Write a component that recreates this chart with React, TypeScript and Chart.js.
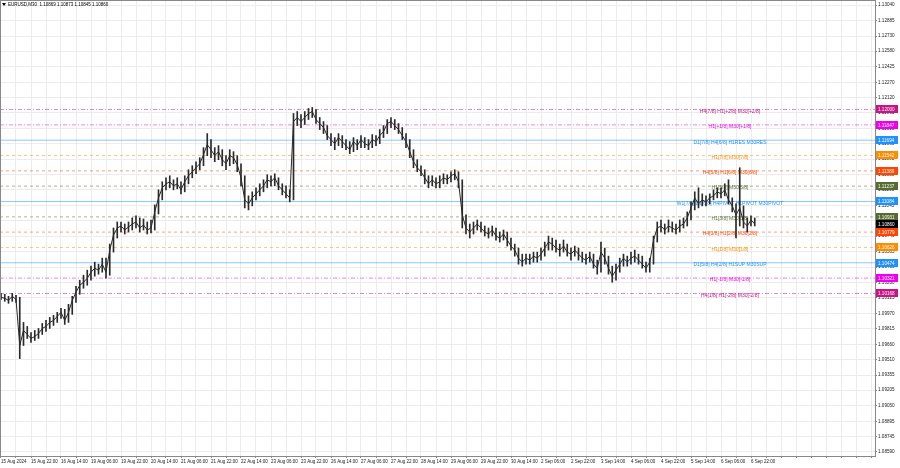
import React, { useEffect, useRef } from "react";
import { Chart, registerables } from "chart.js";
Chart.register(...registerables);

// ---- data ----
const TITLE = "EURUSD,M30  1.10869 1.10873 1.10845 1.10860";
const TIME_LABELS = [
  "15 Aug 2024", "15 Aug 22:00", "16 Aug 14:00", "19 Aug 06:00", "19 Aug 22:00", "20 Aug 14:00",
  "21 Aug 06:00", "21 Aug 22:00", "22 Aug 14:00", "23 Aug 06:00", "23 Aug 22:00", "26 Aug 14:00",
  "27 Aug 06:00", "27 Aug 22:00", "28 Aug 14:00", "29 Aug 06:00", "29 Aug 22:00", "30 Aug 14:00",
  "2 Sep 06:00", "2 Sep 22:00", "3 Sep 14:00", "4 Sep 06:00", "4 Sep 22:00", "5 Sep 14:00",
  "6 Sep 06:00", "6 Sep 22:00",
];
const FIRST_OPEN = 1.1014;
const CLOSES = [
  1.1013, 1.1012, 1.1010, 1.1014, 1.1011, 1.0965, 1.0980, 1.0976, 1.0972, 1.0974,
  1.0977, 1.0982, 1.0984, 1.0988, 1.0990, 1.0994, 1.0998, 1.0990, 1.0998, 1.1010,
  1.1018, 1.1025, 1.1028, 1.1032, 1.1038, 1.1042, 1.1040, 1.1046, 1.1038, 1.1060,
  1.1075, 1.1082, 1.1084, 1.1080, 1.1083, 1.1086, 1.1088, 1.1082, 1.1085, 1.1080,
  1.1082, 1.1098, 1.1112, 1.1122, 1.1126, 1.1128, 1.1124, 1.1126, 1.1120, 1.1128,
  1.1134, 1.1138, 1.1142, 1.1146, 1.1155, 1.1165, 1.1160, 1.1154, 1.1158, 1.1150,
  1.1146, 1.1154, 1.1152, 1.1145, 1.1132, 1.1110, 1.1106, 1.1112, 1.1116, 1.1120,
  1.1124, 1.1130, 1.1128, 1.1132, 1.1124, 1.1120, 1.1116, 1.1112, 1.1188, 1.1192,
  1.1188, 1.1192, 1.1196, 1.1198, 1.1190, 1.1186, 1.1182, 1.1174, 1.1170, 1.1166,
  1.1172, 1.1168, 1.1164, 1.1160, 1.1168, 1.1164, 1.1170, 1.1166, 1.1164, 1.1170,
  1.1168, 1.1174, 1.1178, 1.1186, 1.1188, 1.1184, 1.1180, 1.1174, 1.1168, 1.1158,
  1.1148, 1.1142, 1.1138, 1.1132, 1.1126, 1.1130, 1.1126, 1.1128, 1.1132, 1.1130,
  1.1134, 1.1136, 1.1128, 1.1095, 1.1082, 1.1078, 1.1082, 1.1086, 1.1082, 1.1078,
  1.1076, 1.1080, 1.1074, 1.1072, 1.1076, 1.1070, 1.1064, 1.1060, 1.1052, 1.1048,
  1.1052, 1.1050, 1.1054, 1.1052, 1.1056, 1.1062, 1.1068, 1.1066, 1.1062, 1.1060,
  1.1064, 1.1058, 1.1056, 1.1060, 1.1056, 1.1052, 1.1050, 1.1054, 1.1046, 1.1042,
  1.1058, 1.1052, 1.1042, 1.1034, 1.1040, 1.1046, 1.1052, 1.1048, 1.1052, 1.1054,
  1.1050, 1.1046, 1.1042, 1.1048, 1.1070, 1.1082, 1.1084, 1.1080, 1.1084, 1.1082,
  1.1080, 1.1084, 1.1086, 1.1092, 1.1102, 1.1112, 1.1106, 1.1110, 1.1108, 1.1112,
  1.1114, 1.1118, 1.1116, 1.1120, 1.1110, 1.1104, 1.1095, 1.1102, 1.1088, 1.1084,
  1.1090, 1.1086,
];
const HIGHS = [
  1.1017, 1.1016, 1.1014, 1.1017, 1.1015, 1.1013, 1.0988, 1.0984, 1.0978, 1.0980,
  1.0982, 1.0987, 1.0990, 1.0993, 1.0995, 1.0998, 1.1002, 1.1001, 1.1006, 1.1014,
  1.1024, 1.1030, 1.1035, 1.1040, 1.1044, 1.1048, 1.1046, 1.1052, 1.1052, 1.1066,
  1.1082, 1.1088, 1.1088, 1.1086, 1.1088, 1.1092, 1.1094, 1.1092, 1.1091, 1.1088,
  1.1090, 1.1105, 1.1120, 1.1128, 1.1132, 1.1134, 1.1130, 1.1132, 1.1128, 1.1134,
  1.1140, 1.1144, 1.1148, 1.1152, 1.1162, 1.1176, 1.1170, 1.1162, 1.1164, 1.1160,
  1.1154, 1.1160, 1.1158, 1.1154, 1.1146, 1.1134, 1.1114, 1.1118, 1.1122, 1.1126,
  1.1130, 1.1135, 1.1134, 1.1136, 1.1132, 1.1126, 1.1124, 1.1120, 1.1196, 1.1198,
  1.1195, 1.1198, 1.1201, 1.1202, 1.1200, 1.1192, 1.1188, 1.1184, 1.1176, 1.1172,
  1.1176, 1.1174, 1.1170, 1.1168, 1.1172, 1.1170, 1.1174, 1.1172, 1.1170, 1.1175,
  1.1174, 1.1180, 1.1184, 1.1190, 1.1192, 1.1190, 1.1186, 1.1182, 1.1176, 1.1170,
  1.1160, 1.1150, 1.1144, 1.1140, 1.1134, 1.1134, 1.1132, 1.1134, 1.1136, 1.1135,
  1.1138, 1.1140, 1.1138, 1.1130, 1.1092, 1.1086, 1.1088, 1.1090, 1.1088, 1.1084,
  1.1082, 1.1084, 1.1082, 1.1078, 1.1080, 1.1078, 1.1072, 1.1066, 1.1062, 1.1056,
  1.1056, 1.1056, 1.1058, 1.1058, 1.1062, 1.1068, 1.1074, 1.1072, 1.1070, 1.1066,
  1.1070, 1.1066, 1.1062, 1.1064, 1.1062, 1.1058, 1.1056, 1.1058, 1.1056, 1.1050,
  1.1068, 1.1062, 1.1054, 1.1044, 1.1046, 1.1052, 1.1056, 1.1054, 1.1058, 1.1060,
  1.1056, 1.1054, 1.1048, 1.1052, 1.1074, 1.1088, 1.1090, 1.1086, 1.1090, 1.1088,
  1.1086, 1.1090, 1.1092, 1.1098, 1.1108, 1.1118, 1.1122, 1.1116, 1.1114, 1.1116,
  1.1120, 1.1122, 1.1122, 1.1126, 1.1130, 1.1112, 1.1106, 1.1142, 1.1104, 1.1092,
  1.1094, 1.1092,
];
const LOWS = [
  1.1011, 1.1009, 1.1007, 1.1009, 1.1008, 1.0952, 1.0965, 1.0972, 1.0968, 1.0970,
  1.0972, 1.0976, 1.0979, 1.0982, 1.0985, 1.0988, 1.0992, 1.0986, 1.0988, 1.0996,
  1.1008, 1.1016, 1.1022, 1.1025, 1.1030, 1.1034, 1.1036, 1.1038, 1.1032, 1.1035,
  1.1058, 1.1072, 1.1078, 1.1076, 1.1078, 1.1080, 1.1082, 1.1078, 1.1080, 1.1076,
  1.1077, 1.1080, 1.1096, 1.1110, 1.1120, 1.1122, 1.1120, 1.1121, 1.1116, 1.1118,
  1.1126, 1.1132, 1.1136, 1.1140, 1.1144, 1.1154, 1.1152, 1.1148, 1.1150, 1.1144,
  1.1140, 1.1144, 1.1146, 1.1138, 1.1124, 1.1102, 1.1100, 1.1104, 1.1110, 1.1114,
  1.1118, 1.1122, 1.1124, 1.1124, 1.1120, 1.1115, 1.1112, 1.1108, 1.1110, 1.1184,
  1.1182, 1.1185, 1.1190, 1.1192, 1.1186, 1.1180, 1.1176, 1.1170, 1.1164, 1.1160,
  1.1164, 1.1162, 1.1160, 1.1156, 1.1158, 1.1160, 1.1162, 1.1162, 1.1160, 1.1162,
  1.1164, 1.1166, 1.1172, 1.1176, 1.1182, 1.1180, 1.1176, 1.1170, 1.1162, 1.1152,
  1.1142, 1.1138, 1.1134, 1.1126, 1.1122, 1.1124, 1.1122, 1.1122, 1.1126, 1.1126,
  1.1128, 1.1130, 1.1122, 1.1082, 1.1076, 1.1072, 1.1076, 1.1080, 1.1078, 1.1074,
  1.1072, 1.1074, 1.1070, 1.1068, 1.1070, 1.1064, 1.1060, 1.1054, 1.1046, 1.1044,
  1.1046, 1.1046, 1.1048, 1.1048, 1.1050, 1.1054, 1.1060, 1.1060, 1.1058, 1.1054,
  1.1058, 1.1054, 1.1050, 1.1054, 1.1050, 1.1048, 1.1046, 1.1048, 1.1042, 1.1036,
  1.1038, 1.1046, 1.1036, 1.1028, 1.1030, 1.1038, 1.1044, 1.1044, 1.1046, 1.1048,
  1.1046, 1.1042, 1.1038, 1.1038, 1.1046, 1.1068, 1.1078, 1.1076, 1.1078, 1.1078,
  1.1076, 1.1078, 1.1082, 1.1084, 1.1090, 1.1100, 1.1102, 1.1104, 1.1104, 1.1106,
  1.1110, 1.1112, 1.1112, 1.1114, 1.1106, 1.1098, 1.1072, 1.1084, 1.1082, 1.1078,
  1.1084, 1.1084,
];
const Y_TICKS = [
  1.1304, 1.12885, 1.1273, 1.1258, 1.12425, 1.1227, 1.1212, 1.11965, 1.1181, 1.1166,
  1.11505, 1.1135, 1.112, 1.11045, 1.1089, 1.1074, 1.10585, 1.1043, 1.1028, 1.10125,
  1.0997, 1.09815, 1.0966, 1.0951, 1.09355, 1.09205, 1.0905, 1.08895, 1.08745, 1.0859,
];
const LEVELS = [
  1.12, 1.11847, 1.11694, 1.11542, 1.11389, 1.11237, 1.11084,
  1.10931, 1.10779, 1.10626, 1.10474, 1.10321, 1.10168,
];
const LEVEL_NAMES = [
  "H4[7/8] H1[+2/8] M30[+2/8]",
  "H1[+1/8] M30[+1/8]",
  "D1[7/8] H4[6/8] H1RES M30RES",
  "H1[7/8] M30[7/8]",
  "H4[5/8] H1[6/8] M30[6/8]",
  "H1[5/8] M30[5/8]",
  "W1[7/8] D1[6/8] H4PIVOT H1PIVOT M30PIVOT",
  "H1[3/8] M30[3/8]",
  "H4[3/8] H1[2/8] M30[2/8]",
  "H1[1/8] M30[1/8]",
  "D1[5/8] H4[2/8] H1SUP M30SUP",
  "H1[-1/8] M30[-1/8]",
  "H4[1/8] H1[-2/8] M30[-2/8]",
];
const CURRENT_PRICE = 1.1086;

// ---- styles ----
const LEVEL_STYLE = [
  { color: "#C71585", dash: [4, 2, 1, 2] },
  { color: "#EE00EE", dash: [4, 2, 1, 2] },
  { color: "#1E90FF", dash: [] },
  { color: "#FF8C00", dash: [3, 3] },
  { color: "#FF4500", dash: [3, 3] },
  { color: "#556B2F", dash: [3, 3] },
  { color: "#1E90FF", dash: [] },
  { color: "#556B2F", dash: [3, 3] },
  { color: "#FF4500", dash: [3, 3] },
  { color: "#FF8C00", dash: [3, 3] },
  { color: "#1E90FF", dash: [] },
  { color: "#EE00EE", dash: [4, 2, 1, 2] },
  { color: "#C71585", dash: [4, 2, 1, 2] },
];
const PLOT_W = 875;
const BAR_PX = 3.75;
const X_MIN = -1 / BAR_PX;
const X_MAX = X_MIN + PLOT_W / BAR_PX;
const Y_MIN = 1.0855;
const Y_MAX = 1.1309;
const LABEL_AT = 194.4;
const FONT = '"Liberation Sans", Arial, sans-serif';
const INK = "#2a2a2a";

export default function App() {
  const ref = useRef<HTMLCanvasElement | null>(null);
  useEffect(() => {
    document.body.style.margin = "0";
    const canvas = ref.current;
    if (!canvas) return;

    const wickData = CLOSES.map((c, i) => {
      const o = i === 0 ? FIRST_OPEN : CLOSES[i - 1];
      return { x: i, y: [Math.min(LOWS[i], o, c), Math.max(HIGHS[i], o, c)] };
    });
    const closeData = CLOSES.map((c, i) => ({ x: i, y: c }));

    const levelSets = LEVELS.map((v, i) => ({
      type: "line" as const,
      data: [{ x: X_MIN, y: v }, { x: X_MAX, y: v }],
      borderColor: LEVEL_STYLE[i].color + "80",
      borderWidth: 1,
      borderDash: LEVEL_STYLE[i].dash,
      pointRadius: 0,
      order: 10,
    }));

    const overlay = {
      id: "overlay",
      beforeDatasetsDraw(chart: any) {
        const { ctx, scales } = chart;
        const x = scales.x, y = scales.y;
        ctx.save();
        ctx.font = `5px ${FONT}`;
        ctx.textAlign = "center";
        ctx.textBaseline = "top";
        LEVELS.forEach((v, i) => {
          ctx.fillStyle = LEVEL_STYLE[i].color;
          ctx.fillText(LEVEL_NAMES[i], x.getPixelForValue(LABEL_AT), y.getPixelForValue(v) - 0.5);
        });
        ctx.restore();
      },
      afterDraw(chart: any) {
        const { ctx, scales, chartArea } = chart;
        const y = scales.y;
        ctx.save();
        ctx.strokeStyle = "#888";
        ctx.lineWidth = 1;
        ctx.beginPath();
        ctx.moveTo(0.5, chartArea.top);
        ctx.lineTo(0.5, chartArea.bottom);
        ctx.moveTo(0, 0.5);
        ctx.lineTo(chartArea.right, 0.5);
        ctx.stroke();
        ctx.font = `4.6px ${FONT}`;
        ctx.textBaseline = "middle";
        ctx.textAlign = "left";
        const box = (v: number, color: string) => {
          const py = Math.round(y.getPixelForValue(v));
          ctx.fillStyle = color;
          ctx.fillRect(chartArea.right + 1, py - 4, 22, 8);
          ctx.fillStyle = "#fff";
          ctx.fillText(v.toFixed(5), chartArea.right + 3, py + 0.5);
        };
        LEVELS.forEach((v, i) => box(v, LEVEL_STYLE[i].color));
        box(CURRENT_PRICE, "#000");
        ctx.fillStyle = "#000";
        ctx.beginPath();
        ctx.moveTo(2, 3);
        ctx.lineTo(6, 3);
        ctx.lineTo(4, 6);
        ctx.closePath();
        ctx.fill();
        ctx.font = `4.5px ${FONT}`;
        ctx.fillText(TITLE, 8, 5);
        ctx.restore();
      },
    };

    const chart = new Chart(canvas, {
      type: "bar",
      data: {
        datasets: [
          {
            type: "line",
            data: closeData as any,
            borderColor: INK,
            borderWidth: 1,
            pointRadius: 0,
            tension: 0,
            order: 0,
          },
          {
            type: "bar",
            data: wickData as any,
            backgroundColor: INK,
            barThickness: 1,
            grouped: false,
            borderWidth: 0,
            order: 1,
          },
          ...levelSets,
        ] as any,
      },
      options: {
        responsive: false,
        animation: false,
        layout: { padding: 0 },
        plugins: { legend: { display: false }, tooltip: { enabled: false }, title: { display: false } },
        events: [],
        scales: {
          x: {
            type: "linear",
            min: X_MIN,
            max: X_MAX,
            offset: false,
            afterBuildTicks: (s: any) => {
              const t = [];
              for (let v = 0; v <= X_MAX; v += 4) t.push({ value: v });
              s.ticks = t;
            },
            afterFit: (s: any) => {
              s.height = 12;
              s.paddingLeft = 0;
              s.paddingRight = 0;
            },
            ticks: {
              autoSkip: false,
              maxRotation: 0,
              minRotation: 0,
              align: "start",
              padding: 1,
              color: "#222",
              font: { size: 4.5, family: FONT },
              callback: (v: any) => (v % 8 === 0 && TIME_LABELS[v / 8]) || "",
            },
            grid: { color: "#ececec", tickLength: 2, tickColor: "#888", offset: false },
            border: { color: "#888" },
          },
          y: {
            type: "linear",
            position: "right",
            min: Y_MIN,
            max: Y_MAX,
            afterBuildTicks: (s: any) => {
              s.ticks = Y_TICKS.map((v) => ({ value: v }));
            },
            afterFit: (s: any) => {
              s.width = 900 - PLOT_W;
              s.paddingTop = 0;
              s.paddingBottom = 0;
            },
            ticks: {
              autoSkip: false,
              padding: 1,
              color: "#222",
              font: { size: 4.6, family: FONT },
              callback: (v: any) => Number(v).toFixed(5),
            },
            grid: { color: "#ececec", tickLength: 2, tickColor: "#888" },
            border: { color: "#888" },
          },
        },
      } as any,
      plugins: [overlay],
    });
    return () => chart.destroy();
  }, []);

  return (
    <div style={{ position: "absolute", left: 0, top: 0, width: 900, height: 468, background: "#fff" }}>
      <canvas ref={ref} width={900} height={468} style={{ display: "block" }} />
    </div>
  );
}
